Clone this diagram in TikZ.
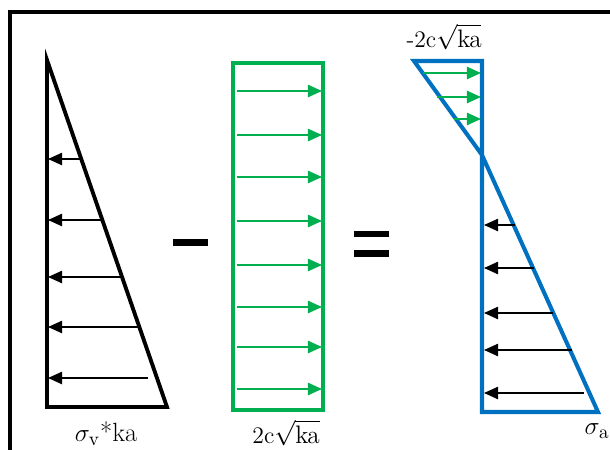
\documentclass[tikz,border=0pt]{standalone}
\usepackage{xcolor}
\usepackage{tikz}
\usetikzlibrary{arrows.meta}
\definecolor{cohgreen}{RGB}{0,176,80}
\definecolor{resblue}{RGB}{0,112,192}
\tikzset{
  frameline/.style={draw, line width=2.3pt},
  diagline/.style={draw, line width=2.2pt, line join=miter},
  loadarrow/.style={draw, line width=0.9pt, -{Triangle[length=8pt, width=7pt]}},
  opbar/.style={fill=black, inner sep=0pt, minimum width=0.72cm, minimum height=0.13cm},
  lbl/.style={font=\fontsize{13.5}{16}\selectfont, inner sep=1pt},
}

\begin{document}
\begin{tikzpicture}[x=0.02cm, y=-0.02cm]
    \useasboundingbox (0,0) rectangle (610,450);
    \draw[frameline] (10,460) -- (10,12) -- (620,12);
    % active pressure sv*ka
    \draw[diagline] (47,60) -- (47,407) -- (167,407) -- cycle;
    \foreach \y/\x in {159/81, 220/101, 277/124, 327/138, 378/148}
      { \draw[loadarrow] (\x,\y) -- (48,\y); }
    \node[lbl, font=\fontsize{15}{18}\selectfont] (sv) at (106,434) {$\sigma_{\mathrm{v}}$*ka};
    % minus
    \node[opbar] (minus) at (190.5,242.5) {};
    % cohesion 2c sqrt(ka)
    \draw[diagline, cohgreen, line width=2.7pt] (233,63) rectangle (323,410);
    \foreach \y in {91,135,177,221,265,307,347,389}
      { \draw[loadarrow, cohgreen] (237,\y) -- (322,\y); }
    \node[lbl] (coh) at (286,433) {2c$\sqrt{\mathrm{ka}}$};
    % equals
    \node[opbar] (eqtop) at (371.5,234) {};
    \node[opbar] (eqbot) at (371.5,253.5) {};
    % resulting pressure sa
    \draw[diagline, resblue, line width=2.3pt] (414,61) -- (482,61) -- (482,412) -- (598,412) -- (482,155) -- cycle;
    \foreach \y/\x in {73/423, 97/437, 119/454}
      { \draw[loadarrow, cohgreen] (\x,\y) -- (481,\y); }
    \foreach \y/\x in {225/515, 268/534, 313/553, 350/572, 393/584}
      { \draw[loadarrow] (\x,\y) -- (484,\y); }
    \node[lbl] (tens) at (444,37) {-2c$\sqrt{\mathrm{ka}}$};
    \node[lbl, font=\fontsize{15}{18}\selectfont] (sa) at (597,431) {$\sigma_{\mathrm{a}}$};
\end{tikzpicture}
\end{document}
